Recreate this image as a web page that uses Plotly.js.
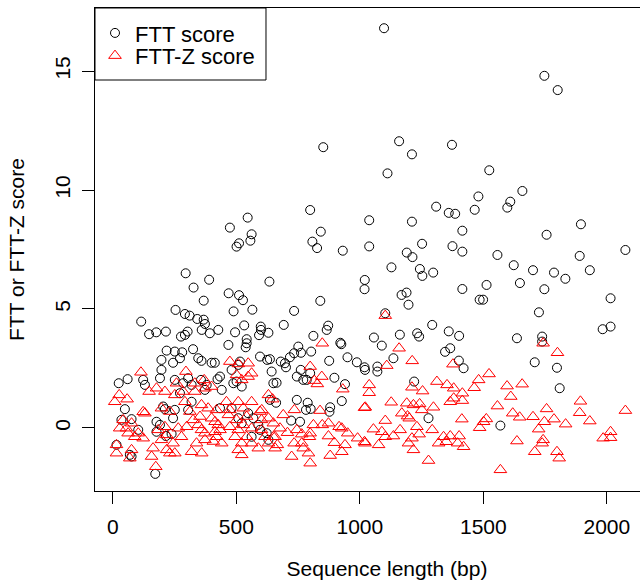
<!DOCTYPE html>
<html>
<head>
<meta charset="utf-8">
<script src="https://cdn.plot.ly/plotly-3.0.1.min.js"></script>
<style>html,body{margin:0;padding:0;background:#fff;overflow:hidden;}#wrap{width:640px;height:587px;overflow:hidden;position:relative;}</style>
</head>
<body>
<div id="wrap"><div id="chart"></div></div>
<script>
// FTT score (circles)
const fttLen = [
1098,852,1159,1211,1373,1112,1747,1801,1524,
546,474,562,511,501,557,295,390,327,634,469,511,527,368,254,565,489,292,311,342,368,373,115,176,215,147,303,292,276,360,393,427,495,532,599,600,630,592,542,
799,1309,1360,1038,1211,842,808,827,931,1038,1252,1190,1213,1375,1128,1243,1253,1297,1020,1019,1169,1189,1197,840,734,692,872,866,1103,1293,1360,812,1057,1162,1232,1240,
1480,1658,1609,1597,1465,1386,1895,1756,1415,1415,2075,1557,1890,1623,1701,1786,1832,1931,1648,1747,1415,1513,1485,1499,2015,1725,1983,2015,1636,1738,1402,
1738,1366,1708,1401,1420,1798,1809,1569,
1089,921,925,751,734,762,803,717,697,701,680,636,643,876,950,988,1019,1021,1071,1071,1136,1345,745,761,771,785,799,663,897,940,1220,745,789,782,801,927,880,877,636,661,722,758,1278,
468,542,538,218,251,281,272,197,244,325,346,359,400,413,515,508,481,596,625,197,191,60,24,123,130,251,285,305,319,357,380,424,434,441,488,501,522,373,272,650,49,204,211,251,35,76,103,177,191,244,305,319,434,481,508,522,548,569,589,177,215,238,69,76,172,15,623,630,562,596
];
const fttScore = [
16.8,11.8,12.05,11.5,11.9,10.7,14.8,14.2,10.83,
8.84,8.42,8.14,7.76,7.62,7.87,6.5,6.23,5.9,6.15,5.66,5.58,5.37,5.35,4.96,4.97,4.9,4.79,4.72,4.58,4.55,4.37,4.47,4.02,4.05,3.94,4.05,3.91,3.84,4.12,3.98,4.12,4.02,4.31,4.26,4.12,4.0,3.9,3.73,
9.16,9.3,9.04,8.73,8.67,8.25,7.83,7.56,7.45,7.63,7.74,7.37,7.18,7.64,6.75,6.68,6.39,6.53,6.22,5.83,5.59,5.69,5.18,5.34,4.92,4.33,4.3,4.12,4.82,4.33,4.06,3.87,3.8,3.92,3.98,3.84,
9.73,9.96,9.51,9.26,9.17,9.0,8.56,8.12,8.29,7.41,7.48,7.27,7.23,6.84,6.63,6.53,6.27,6.63,6.09,5.83,5.84,6.01,5.39,5.39,5.45,4.86,4.15,4.26,3.77,3.84,3.87,
3.63,3.35,2.76,2.83,2.51,2.53,1.67,0.1,
3.46,3.58,3.52,3.42,3.14,3.16,3.21,2.97,2.72,2.55,2.79,2.89,2.37,2.82,2.97,2.76,2.55,2.44,2.58,2.37,2.93,3.2,2.16,2.44,2.02,2.02,2.3,1.9,2.11,1.84,1.95,1.18,1.06,0.76,0.8,1.13,0.87,0.68,1.18,1.06,0.31,0.26,0.41,
3.49,3.56,3.39,3.25,3.21,3.18,2.93,2.86,2.74,3.31,2.93,2.82,2.74,2.74,2.79,2.65,2.44,3.0,2.86,2.44,2.09,2.05,1.88,2.02,1.81,2.02,1.88,2.09,1.81,2.02,1.81,2.05,2.16,1.6,1.88,1.95,1.74,1.6,1.46,1.88,0.79,0.9,0.79,0.76,0.34,0.37,-0.08,0.26,0.13,0.41,0.76,1.1,0.83,0.83,0.41,0.2,0.62,0.41,0.13,-0.16,-0.34,-0.25,-1.13,-1.2,-1.93,-0.71,-0.22,-0.5,-0.37,-0.08
];
// FTT-Z score (triangles)
const zLen = [
1103,
1742,1800,1377,1523,1481,1463,1596,1657,1611,1380,1380,1415,1415,1557,1893,1890,1756,2075,1413,1619,1647,1701,1747,1786,1833,1931,1512,1501,1485,1724,1366,1402,1396,1420,1636,1742,1738,1708,1798,1807,1985,2015,2015,1569,
848,1159,1212,1109,799,846,816,828,1038,1038,931,1312,1353,1211,1254,647,1127,1019,1022,1190,1217,1242,1251,1298,1170,1193,1200,1366,690,735,839,1103,812,848,873,916,927,677,707,745,765,796,799,657,873,897,951,991,1019,1021,1055,1089,1103,1076,1136,1163,1231,1240,1211,1197,1293,1319,1350,1339,940,880,927,724,792,799,771,734,765,666,657,1217,1278,
114,474,508,548,562,501,522,548,296,332,370,258,285,147,177,211,251,332,373,400,26,58,8,123,130,197,231,292,312,359,386,420,460,474,508,528,562,596,630,603,42,55,76,28,62,89,103,123,15,15,69,76,157,174,163,197,184,211,218,244,218,251,231,265,278,299,319,360,339,373,407,373,414,427,359,346,325,353,400,414,441,434,420,468,501,474,508,495,542,528,562,542,522,508,522,562,602,630,602,616,650,650,630,589
];
const zScore = [
4.72,
3.56,3.16,2.68,2.27,2.02,1.69,1.76,1.84,1.32,1.67,1.25,1.46,1.15,0.92,1.12,0.64,0.8,0.73,0.37,0.62,0.45,0.47,0.26,0.37,0.16,0.29,0.38,0.26,0.01,-0.05,-0.34,-0.34,-0.64,-0.79,-0.55,-0.5,-0.64,-1.0,-1.0,-1.27,-0.43,-0.16,-0.41,-1.76,
3.56,3.35,2.82,2.62,2.58,2.16,1.99,1.85,1.81,1.48,1.63,1.95,1.81,1.71,1.55,1.21,1.08,0.85,0.87,1.04,0.97,1.01,0.76,0.87,0.62,0.5,0.41,1.1,0.55,0.76,0.73,0.31,0.13,0.13,0.2,0.05,-0.01,-0.01,-0.2,-0.08,-0.26,-0.37,-0.22,-0.37,-0.34,-0.62,-0.22,-0.43,-0.58,-0.64,-0.05,-0.16,-0.37,-0.71,-0.34,-0.08,0.05,-0.26,-0.43,-0.64,-0.08,-0.64,-0.58,-0.37,-0.71,-1.16,-1.0,-1.2,-1.06,-1.48,-0.85,-0.64,-0.64,-0.71,-0.85,-0.92,-1.37,
2.34,2.79,2.69,2.72,2.3,2.23,2.02,2.16,2.37,1.88,2.02,1.88,1.53,1.53,1.67,1.53,1.39,1.53,1.67,1.74,1.39,1.21,1.1,0.68,0.62,0.83,0.69,1.1,0.69,0.97,0.83,0.76,1.1,0.76,1.1,0.83,1.1,0.69,1.39,0.76,0.34,-0.01,0.2,-0.01,-0.22,-0.37,-0.22,-0.43,-0.71,-1.06,-1.27,-0.92,-1.2,-1.63,-0.85,-0.5,-0.08,0.05,-0.29,-0.64,-0.92,-1.06,-1.06,-0.01,-0.37,0.05,-1.0,-1.06,-0.64,-0.5,-0.57,-0.22,-0.16,0.13,-0.08,0.13,0.34,0.48,0.41,0.26,-0.64,-0.08,-0.37,0.55,0.34,0.05,-0.08,-0.37,0.48,0.13,-0.01,-0.37,-0.64,-0.92,-1.13,-0.64,0.34,0.41,-0.08,-0.37,0.2,-0.37,-0.64,-0.85
];
const xTicks = [0, 500, 1000, 1500, 2000];
const yTicks = [0, 5, 10, 15];
const seriesNames = ["FTT score", "FTT-Z score"];

const FONT = "Liberation Sans, Arial, Helvetica, sans-serif";
const traces = [
  {x: fttLen, y: fttScore, name: seriesNames[0], type: "scatter", mode: "markers", legend: "legend",
   marker: {symbol: "circle-open", size: 9, color: "#000000", line: {width: 1}}},
  {x: zLen, y: zScore, name: seriesNames[1], type: "scatter", mode: "markers", legend: "legend2",
   marker: {symbol: "triangle-up-open", size: 11, color: "#FF0000", line: {width: 1}}}
];
const legendBase = {x: 0, xanchor: "left", yanchor: "middle", borderwidth: 0,
                    bgcolor: "rgba(0,0,0,0)", font: {size: 22, family: FONT, color: "#000"}};
// The original R figure is wider than the 640px photograph: the plot region runs past the right edge.
const layout = {
  width: 687, height: 587,
  margin: {l: 95, r: 8, t: 8, b: 96},
  paper_bgcolor: "#fff", plot_bgcolor: "#fff",
  font: {family: FONT, size: 21, color: "#000"},
  showlegend: true,
  legend: Object.assign({}, legendBase, {y: 0.948}),
  legend2: Object.assign({}, legendBase, {y: 0.901}),
  shapes: [{type: "rect", xref: "paper", yref: "paper", x0: 0, x1: 0.2928, y0: 0.8509, y1: 1,
            line: {color: "#000", width: 1}, fillcolor: "rgba(0,0,0,0)", layer: "above"}],
  xaxis: {range: [-72, 2292], tickvals: xTicks, ticktext: xTicks.map(String),
          ticks: "outside", ticklen: 12, tickwidth: 1, tickcolor: "#000",
          showline: true, mirror: true, linecolor: "#000", linewidth: 1,
          showgrid: false, zeroline: false, ticklabelstandoff: 5,
          title: {text: "Sequence length (bp)", font: {size: 21}, standoff: 24}},
  yaxis: {range: [-2.65, 17.65], tickvals: yTicks, ticktext: yTicks.map(String),
          ticks: "outside", ticklen: 12, tickwidth: 1, tickcolor: "#000", tickangle: -90,
          showline: true, mirror: true, linecolor: "#000", linewidth: 1,
          showgrid: false, zeroline: false, ticklabelstandoff: 4,
          title: {text: "FTT or FTT-Z score", font: {size: 21}, standoff: 20}}
};
Plotly.newPlot("chart", traces, layout, {displayModeBar: false, staticPlot: true});
</script>
</body>
</html>
